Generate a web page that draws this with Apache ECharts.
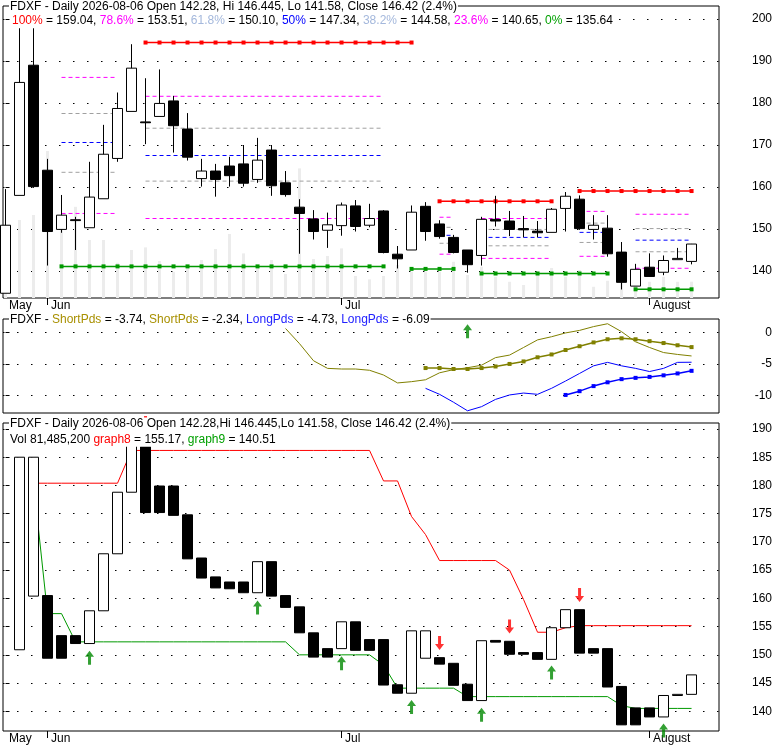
<!DOCTYPE html>
<html>
<head>
<meta charset="utf-8">
<title>FDXF Daily</title>
<script src="https://cdn.jsdelivr.net/npm/echarts@6.0.0/dist/echarts.min.js"></script>
<style>
  html, body { margin: 0; padding: 0; background: #fff; }
  #chart { width: 780px; height: 745px; }
</style>
</head>
<body>
<div id="chart"></div>
<script>
// FDXF daily: price with fib levels, ShortPds/LongPds panel, graph8/graph9 panel

const FONT = 'Liberation Sans, Arial, sans-serif';

// month starts on the date axis (bar index)
const monthIdx = [0, 3, 24, 46];
const monthNames = ['May', 'Jun', 'Jul', 'August'];
const monthTickIdx = [3, 24, 46];

// daily OHLC, one entry per bar
const opens = [134.7, 158.0, 189.0, 164.0, 149.9, 152.2, 150.3, 157.2, 166.8, 178.0,
  175.5, 176.8, 180.5, 173.8, 162.0, 163.8, 165.0, 165.5, 161.8, 168.8,
  161.0, 155.2, 152.4, 149.7, 150.8, 155.5, 150.9, 154.3, 144.0, 145.0,
  155.4, 151.2, 148.0, 145.0, 143.7, 152.3, 151.9, 150.1, 149.5, 149.2,
  154.9, 157.1, 149.9, 150.2, 144.5, 136.4, 140.9, 139.7, 142.7, 142.28];
const closes = [150.9, 184.9, 160.1, 149.4, 153.3, 152.0, 157.6, 167.8, 178.7, 188.3,
  175.3, 179.9, 174.6, 167.1, 163.8, 161.8, 162.7, 160.9, 166.4, 160.3,
  158.2, 153.7, 149.4, 151.0, 155.7, 150.6, 152.5, 144.4, 142.9, 154.0,
  149.4, 148.2, 144.4, 141.5, 152.3, 151.9, 149.9, 149.8, 149.1, 154.7,
  157.8, 150.1, 150.9, 144.1, 137.3, 140.4, 138.7, 142.5, 143.0, 146.42];
const lows = [134.7, 158.0, 159.8, 141.3, 149.1, 145.0, 150.3, 157.2, 166.0, 178.0,
  170.2, 176.8, 168.2, 166.3, 160.1, 157.7, 160.1, 160.1, 161.0, 157.9,
  157.7, 144.1, 147.5, 145.5, 148.4, 149.4, 150.4, 144.2, 140.6, 145.0,
  147.2, 147.7, 144.2, 139.6, 141.3, 150.6, 148.3, 148.0, 148.0, 149.2,
  149.4, 149.8, 147.5, 143.4, 135.6, 136.4, 138.6, 139.0, 142.7, 141.58];
const highs = [159.5, 197.8, 197.8, 166.7, 158.1, 152.9, 166.0, 174.8, 182.5, 194.0,
  185.9, 188.0, 181.7, 177.6, 166.7, 165.5, 167.2, 170.0, 171.7, 170.0,
  163.8, 157.1, 154.5, 153.9, 156.3, 156.9, 156.0, 154.5, 145.95, 155.6,
  156.4, 152.1, 148.6, 145.0, 152.9, 157.9, 154.3, 153.1, 151.9, 155.0,
  158.8, 158.0, 153.3, 153.3, 146.9, 141.7, 144.2, 143.7, 145.5, 146.445];

// volume, millions of shares
const volumes = [340, 390, 415, 735, 365, 456, 290, 290, 176, 240,
  253, 185, 131, 165, 190, 245, 320, 223, 165, 190,
  120, 648, 195, 210, 248, 110, 93, 110, 165, 131,
  131, 131, 181, 115, 156, 106, 81, 65, 115, 150,
  106, 140, 56, 86, 100, 65, 81, 106, 81, 81.5];

// fibonacci retracement segments (bar index range + levels)
const fibFrom = [4, 10, 31, 34, 41, 45];
const fibTo = [8, 27, 32, 39, 43, 49];
const fib786 = [186.1, 181.6, 152.8, 152.5, 154.2, 153.51];
const fib618 = [177.5, 174.0, 150.4, 149.9, 151.4, 150.10];
const fib500 = [170.6, 167.5, 148.5, 148.0, 149.2, 147.34];
const fib382 = [163.5, 161.4, 146.6, 146.0, 146.8, 144.58];
const fib236 = [153.7, 152.5, 144.0, 143.0, 143.5, 140.65];
const hiFrom = [10, 31, 41];
const hiTo = [29, 39, 49];
const hiVal = [194.4, 156.6, 159.04];
const loFrom = [4, 29, 34, 45];
const loTo = [27, 32, 43, 49];
const loVal = [141.1, 140.5, 139.4, 135.64];

// oscillator panel
const short1Start = 20;
const short1 = [0.6, -1.8, -4.5, -5.7, -5.8, -5.8, -6.0, -6.75, -8.0, -7.8,
  -7.5, -6.4, -5.9, -5.6, -5.2, -4.0, -3.6, -2.4, -1.2, -0.7,
  -0.1, 0.3, 0.9, 1.35, 0.1, -1.5, -2.4, -3.2, -3.5, -3.74];
const short2Start = 30;
const short2 = [-5.65, -5.65, -5.8, -5.8, -5.65, -5.4, -5.0, -4.6, -3.95, -3.5,
  -2.8, -2.2, -1.6, -1.1, -0.95, -1.1, -1.4, -1.7, -2.05, -2.34];
const long1Start = 30;
const long1 = [-8.85, -9.8, -11.05, -12.4, -11.75, -10.6, -9.9, -9.6, -9.8, -8.85,
  -7.7, -6.5, -5.3, -4.75, -5.3, -5.7, -6.2, -5.7, -4.75, -4.73];
const long2Start = 40;
const long2 = [-9.9, -9.3, -8.5, -7.9, -7.4, -7.2, -7.05, -6.8, -6.5, -6.09];
const midArrowIdx = [33];
const midArrowVal = [0.16];

// lower panel: bodies only (open/close), starting at bar 1
const botStart = 1;
const botOpen = [150.9, 160.4, 160.5, 153.4, 153.4, 152.0, 157.8, 167.9, 178.8,
  186.9, 179.9, 179.9, 174.8, 167.15, 163.8, 162.9, 162.9, 161.0, 166.5,
  160.5, 158.5, 153.9, 151.1, 151.1, 155.85, 152.7, 152.7, 144.7, 143.2,
  149.4, 149.5, 148.5, 144.8, 141.9, 152.55, 152.4, 150.4, 150.4, 149.2,
  154.8, 158.0, 151.1, 151.1, 144.4, 140.6, 140.6, 139.0, 142.8, 143.0];
const botClose = [185.0, 185.0, 149.4, 149.4, 152.0, 157.8, 167.9, 178.8, 188.3,
  175.2, 175.2, 174.7, 167.0, 163.6, 161.85, 161.7, 161.0, 166.5, 160.4,
  158.4, 153.9, 149.6, 149.6, 155.85, 150.8, 150.8, 144.65, 143.2, 154.25,
  154.25, 148.35, 144.6, 141.9, 152.5, 152.25, 150.1, 150.1, 149.2, 154.8,
  158.0, 150.3, 150.3, 144.3, 137.6, 137.6, 139.0, 142.8, 143.0, 146.45];
const graph8Start = 2;
const graph8 = [180.4, 180.4, 180.4, 180.4, 180.4, 180.4, 180.4, 186.2, 186.2, 186.2,
  186.2, 186.2, 186.2, 186.2, 186.2, 186.2, 186.2, 186.2, 186.2, 186.2,
  186.2, 186.2, 186.2, 186.2, 186.2, 180.8, 180.8, 174.5, 171.3, 166.7,
  166.7, 166.7, 166.7, 166.7, 165.0, 159.8, 154.0, 154.0, 154.8, 155.17,
  155.17, 155.17, 155.17, 155.17, 155.17, 155.17, 155.17, 155.17];
const graph9Start = 2;
const graph9 = [180.5, 157.3, 157.3, 152.3, 152.3, 152.3, 152.3, 152.3, 152.3, 152.3,
  152.3, 152.3, 152.3, 152.3, 152.3, 152.3, 152.3, 152.3, 152.3, 150.0,
  150.0, 150.0, 150.0, 150.0, 150.0, 148.2, 144.1, 144.1, 144.1, 144.1,
  144.1, 142.6, 142.6, 142.6, 142.6, 142.6, 142.6, 142.6, 142.6, 142.6,
  142.6, 142.6, 141.0, 140.51, 140.51, 140.51, 140.51, 140.51];
const buyIdx = [6, 18, 24, 29, 34, 39, 47];
const buyVal = [149.5, 158.4, 148.5, 140.75, 139.4, 146.85, 136.6];
const sellIdx = [10, 31, 36, 41];
const sellVal = [191.06, 152.1, 155.0, 160.6];

// axis tick values
const topTicks = [140, 150, 160, 170, 180, 190, 200];
const midTicks = [-10, -5, 0];
const botTicks = [140, 145, 150, 155, 160, 165, 170, 175, 180, 185, 190];

const RED = '#ff0000', GREEN = '#009900', MAGENTA = '#ff00ff', GREY = '#a0a0a0',
  BLUE = '#0000ff', OLIVE = '#808000', LIGHTBLUE = '#a4b8dc';
const ARROW = 'path://M4.5,0 L9,6 L6,6 L6,14 L3,14 L3,6 L0,6 Z';

const X_MIN = -0.18, X_MAX = 50.96;

function xAxisFor(gridIndex, labels) {
  return {
    type: 'value', gridIndex: gridIndex, min: X_MIN, max: X_MAX,
    axisLine: { show: false },
    splitLine: { show: false },
    axisTick: { show: labels, customValues: monthTickIdx, length: 7, lineStyle: { color: '#000' } },
    axisLabel: {
      show: labels, customValues: monthIdx, align: 'left', margin: 2,
      padding: [0, 0, 0, 3.5], color: '#000', fontSize: 12, fontFamily: FONT,
      formatter: v => monthNames[monthIdx.indexOf(Math.round(v))] || ''
    }
  };
}

function yAxisFor(gridIndex, min, max, ticks) {
  return {
    type: 'value', gridIndex: gridIndex, position: 'right', min: min, max: max,
    axisLine: { show: false },
    axisTick: { show: true, customValues: ticks, length: 4, lineStyle: { color: '#000' } },
    axisLabel: { customValues: ticks, align: 'right', margin: 53, color: '#000',
      fontSize: 12, fontFamily: FONT },
    splitLine: { show: true, lineStyle: { color: '#000', width: 1, type: [1.5, 12.5] } }
  };
}

function levelLine(from, to, val, color, dashed) {
  const pts = [];
  if (dashed) {
    pts.push([from, val], [to, val]);
  } else {
    for (let i = from; i <= to; i++) pts.push([i, val]);
  }
  return {
    type: 'line', xAxisIndex: 0, yAxisIndex: 0, data: pts, z: 3,
    symbol: dashed ? 'none' : 'rect', symbolSize: 4, showSymbol: !dashed,
    itemStyle: { color: color },
    lineStyle: { color: color, width: dashed ? 1 : 1.5, type: dashed ? [4, 3] : 'solid' },
    silent: true
  };
}

function runLine(start, vals, xi, yi, color, marks, width) {
  return {
    type: 'line', xAxisIndex: xi, yAxisIndex: yi, z: 3,
    data: vals.map((v, k) => [start + k, v]),
    symbol: marks ? 'rect' : 'none', symbolSize: 4, showSymbol: !!marks,
    itemStyle: { color: color },
    lineStyle: { color: color, width: width || 1 },
    silent: true
  };
}

const candleStyle = { color: '#fff', color0: '#000', borderColor: '#000', borderColor0: '#000', borderWidth: 1 };

const series = [];

// volume in background
series.push({
  type: 'bar', xAxisIndex: 0, yAxisIndex: 1, barWidth: 3, z: 1, silent: true,
  itemStyle: { color: '#ececec' },
  data: volumes.map((v, i) => [i, v])
});

// fib levels
const fibSets = [[fib786, MAGENTA], [fib618, GREY], [fib500, BLUE], [fib382, GREY], [fib236, MAGENTA]];
fibFrom.forEach((f, s) => {
  fibSets.forEach(([arr, col]) => series.push(levelLine(f, fibTo[s], arr[s], col, true)));
});
hiFrom.forEach((f, s) => series.push(levelLine(f, hiTo[s], hiVal[s], RED, false)));
loFrom.forEach((f, s) => series.push(levelLine(f, loTo[s], loVal[s], GREEN, false)));

// price candles
series.push({
  type: 'candlestick', xAxisIndex: 0, yAxisIndex: 0, barWidth: 10, clip: false, z: 4,
  itemStyle: candleStyle, silent: true,
  data: opens.map((o, i) => [i, o, closes[i], lows[i], highs[i]])
});

// oscillator
series.push(runLine(short1Start, short1, 1, 2, OLIVE, false, 1));
series.push(runLine(short2Start, short2, 1, 2, OLIVE, true, 1.5));
series.push(runLine(long1Start, long1, 1, 2, BLUE, false, 1));
series.push(runLine(long2Start, long2, 1, 2, BLUE, true, 1.5));
series.push({
  type: 'scatter', xAxisIndex: 1, yAxisIndex: 2, symbol: ARROW, symbolSize: [9, 14],
  clip: false, z: 5, itemStyle: { color: '#008800' }, silent: true,
  data: midArrowIdx.map((x, k) => [x, midArrowVal[k]])
});

// lower panel
series.push(runLine(graph8Start, graph8, 2, 3, RED, false, 1));
series.push(runLine(graph9Start, graph9, 2, 3, GREEN, false, 1));
series.push({
  type: 'candlestick', xAxisIndex: 2, yAxisIndex: 3, barWidth: 10, z: 4,
  itemStyle: candleStyle, silent: true,
  data: botOpen.map((o, k) => [botStart + k, o, botClose[k], Math.min(o, botClose[k]), Math.max(o, botClose[k])])
});
series.push({
  type: 'scatter', xAxisIndex: 2, yAxisIndex: 3, symbol: ARROW, symbolSize: [9, 14],
  clip: false, z: 5, itemStyle: { color: '#008800' }, silent: true,
  data: buyIdx.map((x, k) => [x, buyVal[k]])
});
series.push({
  type: 'scatter', xAxisIndex: 2, yAxisIndex: 3, symbol: ARROW, symbolSize: [9, 14],
  symbolRotate: 180, clip: false, z: 5, itemStyle: { color: RED }, silent: true,
  data: sellIdx.map((x, k) => [x, sellVal[k]])
});

function rich(col) { return { color: col, fontSize: 12, fontFamily: FONT }; }
const richStyles = {
  r: rich(RED), m: rich(MAGENTA), lb: rich(LIGHTBLUE), b: rich(BLUE), g: rich('#00a000'),
  o: rich('#a89000'), lp: rich('#2222ff')
};
function titleAt(text, left, top, lh) {
  return {
    text: text, left: left, top: top, padding: [0, 1, 0, 1], backgroundColor: '#fff',
    textStyle: { color: '#000', fontSize: 12, fontWeight: 'normal', fontFamily: FONT,
      lineHeight: lh || 13, rich: richStyles }
  };
}
const last = fib786.length - 1;
const fibLine = '{r|100%} = ' + hiVal[hiVal.length - 1].toFixed(2) +
  ', {m|78.6%} = ' + fib786[last].toFixed(2) +
  ', {lb|61.8%} = ' + fib618[last].toFixed(2) +
  ', {b|50%} = ' + fib500[last].toFixed(2) +
  ', {lb|38.2%} = ' + fib382[last].toFixed(2) +
  ', {m|23.6%} = ' + fib236[last].toFixed(2) +
  ', {g|0%} = ' + loVal[loVal.length - 1].toFixed(2);
const oscLine = 'FDXF - {o|ShortPds} = ' + short1[short1.length - 1].toFixed(2) +
  ', {o|ShortPds} = ' + short2[short2.length - 1].toFixed(2) +
  ', {lp|LongPds} = ' + long1[long1.length - 1].toFixed(2) +
  ', {lp|LongPds} = ' + long2[long2.length - 1].toFixed(2);

const chart = echarts.init(document.getElementById('chart'), null, { renderer: 'canvas' });
chart.setOption({
  animation: false,
  backgroundColor: '#fff',
  title: [
    titleAt('FDXF - Daily 2026-08-06 Open 142.28, Hi 146.445, Lo 141.58, Close 146.42 (2.4%)', 9, 0),
    titleAt(fibLine, 11, 14),
    titleAt(oscLine, 9, 313.5),
    titleAt('FDXF - Daily 2026-08-06 Open 142.28,Hi 146.445,Lo 141.58, Close 146.42 (2.4%)', 9, 417.5),
    titleAt('Vol 81,485,200 {r|graph8} = ' + graph8[graph8.length - 1].toFixed(2) +
      ', {g|graph9} = ' + graph9[graph9.length - 1].toFixed(2), 9, 432, 14.7)
  ],
  grid: [
    { left: 3, top: 6, width: 716, height: 292, show: true, borderColor: '#000', borderWidth: 1, outerBoundsMode: 'none' },
    { left: 3, top: 319, width: 716, height: 94, show: true, borderColor: '#000', borderWidth: 1, outerBoundsMode: 'none' },
    { left: 3, top: 423, width: 716, height: 308, show: true, borderColor: '#000', borderWidth: 1, outerBoundsMode: 'none' }
  ],
  xAxis: [xAxisFor(0, true), xAxisFor(1, false), xAxisFor(2, true)],
  yAxis: [
    yAxisFor(0, 133.57, 203.1, topTicks),
    { type: 'value', gridIndex: 0, min: 0, max: 1460, show: false, splitLine: { show: false } },
    yAxisFor(1, -12.75, 2.1, midTicks),
    yAxisFor(2, 136.51, 191.06, botTicks)
  ],
  series: series
});
</script>
</body>
</html>
